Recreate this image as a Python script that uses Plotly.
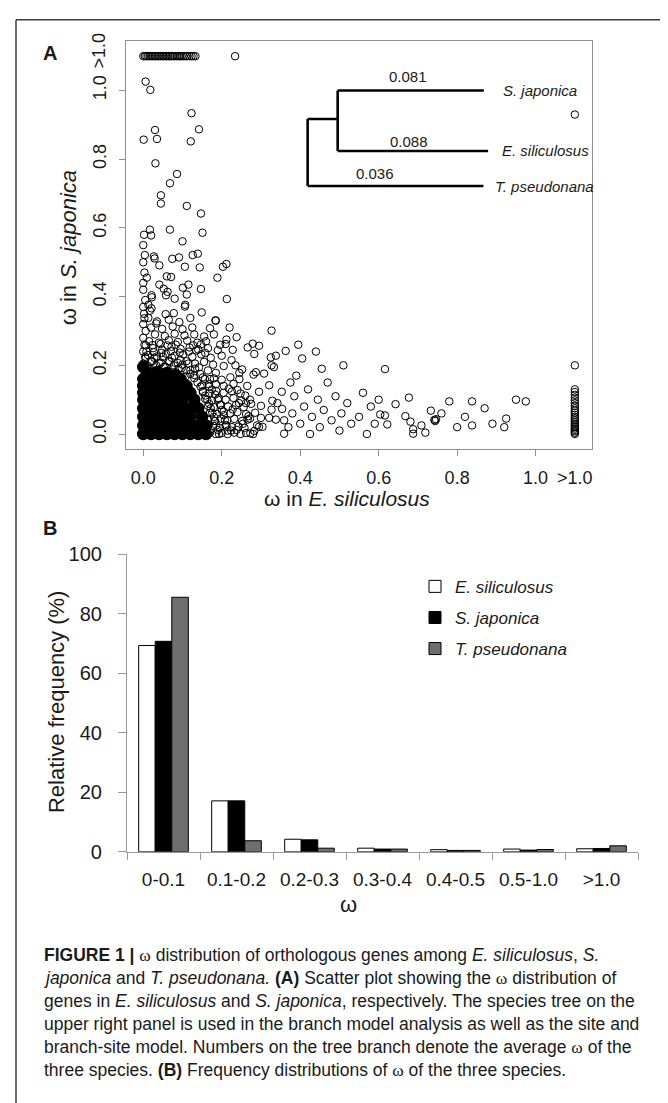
import plotly.graph_objects as go

# ---------------- data: panel A (omega scatter) ----------------
# dense core of overlapping points (solid black mass)
core_x = [0.0, 0.02, 0.04, 0.06, 0.08, 0.10, 0.12, 0.14, 0.16,
          0.0, 0.02, 0.04, 0.06, 0.08, 0.10, 0.12, 0.14, 0.16,
          0.0, 0.02, 0.04, 0.06, 0.08, 0.10, 0.12, 0.15,
          0.0, 0.02, 0.04, 0.06, 0.08, 0.10, 0.12, 0.14,
          0.0, 0.02, 0.04, 0.06, 0.08, 0.10, 0.13,
          0.0, 0.02, 0.04, 0.06, 0.08, 0.10, 0.12,
          0.0, 0.02, 0.04, 0.06, 0.08, 0.10, 0.11,
          0.0, 0.02, 0.04, 0.06, 0.08, 0.095,
          0.01, 0.035, 0.06, 0.082,
          0.0]
core_y = [0.0, 0.0, 0.0, 0.0, 0.0, 0.0, 0.0, 0.0, 0.0,
          0.025, 0.025, 0.025, 0.025, 0.025, 0.025, 0.025, 0.025, 0.025,
          0.05, 0.05, 0.05, 0.05, 0.05, 0.05, 0.05, 0.05,
          0.075, 0.075, 0.075, 0.075, 0.075, 0.075, 0.075, 0.075,
          0.10, 0.10, 0.10, 0.10, 0.10, 0.10, 0.10,
          0.12, 0.12, 0.12, 0.12, 0.12, 0.12, 0.12,
          0.14, 0.14, 0.14, 0.14, 0.14, 0.14, 0.14,
          0.16, 0.16, 0.16, 0.16, 0.16, 0.16,
          0.178, 0.18, 0.178, 0.172,
          0.195]

# ragged rim of overlapping points around the core
rim_x = [0.0, 0.012, 0.022, 0.033, 0.045, 0.056, 0.067, 0.078, 0.09, 0.1,
         0.11, 0.12, 0.13, 0.138, 0.146, 0.152, 0.158, 0.163, 0.168, 0.172,
         0.176, 0.18, 0.183, 0.186, 0.19, 0.193,
         0.005, 0.028, 0.05, 0.073, 0.095, 0.115, 0.132, 0.145, 0.157, 0.167,
         0.175, 0.183, 0.19, 0.196, 0.2, 0.205, 0.208, 0.212, 0.215]
rim_y = [0.205, 0.198, 0.212, 0.2, 0.208, 0.196, 0.21, 0.2, 0.19, 0.202,
         0.185, 0.175, 0.163, 0.15, 0.138, 0.125, 0.112, 0.1, 0.088, 0.075,
         0.062, 0.05, 0.038, 0.025, 0.012, 0.0,
         0.225, 0.222, 0.225, 0.222, 0.215, 0.205, 0.19, 0.175, 0.16, 0.145,
         0.13, 0.115, 0.1, 0.085, 0.07, 0.055, 0.04, 0.025, 0.01]

# halo above the core
halo_up_x = [0.015, 0.04, 0.062, 0.085, 0.108, 0.13, 0.152, 0.17,
             0.01, 0.03, 0.052, 0.075, 0.098, 0.12, 0.142, 0.165, 0.185,
             0.02, 0.042, 0.065, 0.088, 0.11, 0.132, 0.155, 0.178, 0.205,
             0.012, 0.035, 0.058, 0.08, 0.102, 0.125, 0.148, 0.172, 0.2, 0.225,
             0.025, 0.048, 0.072, 0.095, 0.118, 0.14, 0.165, 0.19,
             0.015, 0.04, 0.065, 0.088, 0.112, 0.138, 0.16, 0.21,
             0.03, 0.055, 0.08, 0.105, 0.13, 0.155, 0.18,
             0.02, 0.048, 0.075, 0.1, 0.125, 0.17, 0.22,
             0.035, 0.065, 0.092, 0.12,
             0.008, 0.027, 0.046, 0.07, 0.093, 0.116, 0.135, 0.158,
             0.006, 0.024, 0.044, 0.062, 0.083, 0.127, 0.147, 0.196,
             0.235, 0.245, 0.228, 0.212, 0.252, 0.238]
halo_up_y = [0.168, 0.172, 0.166, 0.175, 0.168, 0.172, 0.165, 0.16,
             0.19, 0.185, 0.195, 0.188, 0.192, 0.186, 0.194, 0.185, 0.178,
             0.21, 0.205, 0.213, 0.207, 0.212, 0.205, 0.21, 0.202, 0.198,
             0.23, 0.226, 0.234, 0.228, 0.232, 0.225, 0.232, 0.222, 0.228, 0.215,
             0.25, 0.245, 0.254, 0.248, 0.252, 0.246, 0.25, 0.244,
             0.27, 0.266, 0.273, 0.268, 0.272, 0.266, 0.27, 0.262,
             0.29, 0.285, 0.292, 0.287, 0.29, 0.284, 0.29,
             0.31, 0.306, 0.313, 0.305, 0.31, 0.308, 0.31,
             0.328, 0.333, 0.326, 0.338,
             0.24, 0.238, 0.236, 0.241, 0.237, 0.24, 0.243, 0.236,
             0.258, 0.259, 0.262, 0.258, 0.26, 0.258, 0.261, 0.26,
             0.2, 0.178, 0.245, 0.275, 0.188, 0.282]

# column of points at omega(E) ~ 0
left_col_x = [0.0, 0.004, 0.0, 0.006, 0.0, 0.003, 0.0, 0.006, 0.0, 0.002,
              0.0, 0.005, 0.0, 0.0, 0.003, 0.0, 0.0, 0.002]
left_col_y = [0.16, 0.18, 0.2, 0.22, 0.24, 0.26, 0.28, 0.3, 0.32, 0.35,
              0.37, 0.39, 0.42, 0.44, 0.47, 0.5, 0.55, 0.58]

# halo right of the core
halo_rt_x = [0.155, 0.17, 0.185, 0.2, 0.215, 0.232, 0.248, 0.262, 0.28,
             0.16, 0.178, 0.195, 0.21, 0.226, 0.243, 0.258, 0.29,
             0.165, 0.182, 0.198, 0.214, 0.232, 0.252, 0.272,
             0.17, 0.188, 0.205, 0.222, 0.24, 0.262, 0.285,
             0.165, 0.18, 0.198, 0.216, 0.236, 0.256, 0.3,
             0.158, 0.175, 0.192, 0.21, 0.23, 0.25, 0.272,
             0.152, 0.168, 0.186, 0.205, 0.226, 0.248,
             0.15, 0.168, 0.185, 0.205, 0.23, 0.265,
             0.18, 0.2, 0.222, 0.245,
             0.224, 0.238, 0.254, 0.268, 0.228, 0.244, 0.26, 0.218, 0.24, 0.275]
halo_rt_y = [0.0, 0.004, 0.0, 0.003, 0.0, 0.004, 0.0, 0.003, 0.0,
             0.02, 0.024, 0.018, 0.025, 0.02, 0.022, 0.018, 0.025,
             0.042, 0.038, 0.045, 0.04, 0.044, 0.038, 0.045,
             0.062, 0.058, 0.065, 0.06, 0.064, 0.058, 0.062,
             0.082, 0.078, 0.085, 0.08, 0.084, 0.078, 0.082,
             0.102, 0.098, 0.104, 0.1, 0.105, 0.098, 0.1,
             0.122, 0.118, 0.125, 0.12, 0.124, 0.118,
             0.142, 0.138, 0.145, 0.14, 0.146, 0.14,
             0.162, 0.158, 0.165, 0.16,
             0.01, 0.012, 0.03, 0.052, 0.072, 0.09, 0.112, 0.132, 0.128, 0.088]

# scattered points, upper left
ul_x = [0.006, 0.018, 0.123, 0.030, 0.142, 0.001, 0.035, 0.121, 0.031, 0.086,
        0.068, 0.045, 0.045, 0.111, 0.147, 0.017, 0.020, 0.068, 0.151, 0.100,
        0.004, 0.027, 0.029, 0.041, 0.074, 0.091, 0.126, 0.139, 0.106, 0.144,
        0.203, 0.212, 0.009, 0.060, 0.071, 0.189, 0.041, 0.052, 0.062, 0.058,
        0.101, 0.115, 0.111, 0.147, 0.080, 0.021, 0.022, 0.213, 0.013, 0.021,
        0.017, 0.003, 0.013, 0.057, 0.078, 0.107, 0.149, 0.185, 0.033]
ul_y = [1.026, 1.002, 0.934, 0.885, 0.887, 0.857, 0.859, 0.852, 0.788, 0.757,
        0.730, 0.695, 0.671, 0.664, 0.642, 0.595, 0.578, 0.595, 0.586, 0.561,
        0.521, 0.517, 0.511, 0.491, 0.510, 0.514, 0.521, 0.525, 0.487, 0.485,
        0.487, 0.495, 0.455, 0.459, 0.457, 0.455, 0.435, 0.423, 0.414, 0.404,
        0.426, 0.435, 0.406, 0.422, 0.394, 0.404, 0.398, 0.393, 0.376, 0.366,
        0.359, 0.337, 0.338, 0.349, 0.352, 0.376, 0.354, 0.330, 0.322]

# scattered points, 0.25 < omega(E) < 0.4
mid_x = [0.327, 0.279, 0.295, 0.266, 0.283, 0.363, 0.325, 0.338, 0.327, 0.333,
         0.308, 0.287, 0.281, 0.321, 0.295, 0.353, 0.329, 0.342, 0.354, 0.327,
         0.300, 0.321, 0.338, 0.359, 0.295, 0.304, 0.359, 0.273, 0.283, 0.266,
         0.262, 0.184, 0.106]
mid_y = [0.301, 0.263, 0.257, 0.252, 0.233, 0.242, 0.223, 0.228, 0.200, 0.195,
         0.176, 0.180, 0.173, 0.142, 0.123, 0.123, 0.097, 0.090, 0.073, 0.071,
         0.047, 0.047, 0.042, 0.040, 0.021, 0.021, 0.001, 0.002, 0.009, 0.042,
         0.090, 0.331, 0.371]

# scattered points, 0.6 < omega(E) < 0.85
far_x = [0.616, 0.677, 0.643, 0.604, 0.616, 0.622, 0.668, 0.681, 0.688, 0.688,
         0.709, 0.719, 0.733, 0.742, 0.746, 0.744, 0.838, 0.838]
far_y = [0.189, 0.106, 0.087, 0.057, 0.054, 0.028, 0.052, 0.036, 0.014, 0.001,
         0.025, 0.004, 0.068, 0.041, 0.043, 0.038, 0.095, 0.025]

# remaining scattered points (estimated)
rest_x = [0.37, 0.38, 0.385, 0.39, 0.40, 0.405, 0.41, 0.42, 0.425, 0.43,
          0.44, 0.445, 0.45, 0.46, 0.47, 0.48, 0.49, 0.50, 0.505, 0.51,
          0.52, 0.53, 0.55, 0.56, 0.57, 0.58, 0.59, 0.60, 0.375, 0.395,
          0.455, 0.76, 0.78, 0.80, 0.82, 0.87, 0.89, 0.92, 0.925, 0.95, 0.975]
rest_y = [0.02, 0.06, 0.11, 0.17, 0.03, 0.22, 0.08, 0.13, 0.0, 0.05,
          0.24, 0.10, 0.02, 0.07, 0.15, 0.04, 0.11, 0.01, 0.06, 0.20,
          0.09, 0.03, 0.05, 0.12, 0.0, 0.08, 0.03, 0.10, 0.15, 0.26,
          0.19, 0.06, 0.095, 0.02, 0.05, 0.075, 0.03, 0.02, 0.045, 0.10, 0.095]

# genes with omega(S) > 1.0 (plotted on the ">1.0" row)
top_row_x = [0.0, 0.004, 0.008, 0.012, 0.016, 0.02, 0.024, 0.028, 0.032, 0.036,
             0.04, 0.044, 0.048, 0.052, 0.056, 0.06, 0.064, 0.068, 0.072, 0.076,
             0.08, 0.085, 0.09, 0.094, 0.098, 0.103, 0.108, 0.112, 0.118, 0.123,
             0.128, 0.133, 0.234]
# genes with omega(E) > 1.0 (plotted on the ">1.0" column)
right_col_y = [0.0, 0.004, 0.008, 0.012, 0.016, 0.02, 0.025, 0.03, 0.035, 0.04,
               0.045, 0.05, 0.056, 0.062, 0.068, 0.075, 0.082, 0.09, 0.098, 0.106,
               0.114, 0.122, 0.13, 0.2, 0.93]
OVER = 1.1  # plotting position used for omega > 1.0

x_ticks = [0.0, 0.2, 0.4, 0.6, 0.8, 1.0]
tick_text = ["0.0", "0.2", "0.4", "0.6", "0.8", "1.0"]

# species tree branch omegas
branch_omega = {"S. japonica": "0.081", "E. siliculosus": "0.088", "T. pseudonana": "0.036"}

# ---------------- data: panel B (frequency distribution) ----------------
bins = ["0-0.1", "0.1-0.2", "0.2-0.3", "0.3-0.4", "0.4-0.5", "0.5-1.0", ">1.0"]
freq_es = [69.3, 17.1, 4.2, 1.2, 0.7, 0.9, 1.0]
freq_sj = [70.7, 17.1, 4.0, 0.9, 0.45, 0.55, 1.1]
freq_tp = [85.5, 3.7, 1.2, 0.9, 0.45, 0.75, 2.0]

# ---------------- figure ----------------
W, H = 668, 1103
OFF = 8  # the page body adds an 8 px margin; place items in screen pixels
def fx(px): return (px - OFF) / W
def fy(py): return 1 - (py - OFF) / H

FONT = "Liberation Sans, Arial, Helvetica, sans-serif"
TXT = "#1a1a1a"

fig = go.Figure()

open_marker = dict(symbol="circle-open", size=7.5, color="black", line=dict(width=1, color="black"))

fig.add_trace(go.Scatter(x=core_x, y=core_y, mode="markers",
                         marker=dict(symbol="circle", size=12.5, color="black"),
                         showlegend=False, hoverinfo="skip", xaxis="x", yaxis="y"))
all_x = (rim_x + halo_up_x + left_col_x + halo_rt_x + ul_x + mid_x + far_x + rest_x
         + top_row_x + [OVER] * len(right_col_y))
all_y = (rim_y + halo_up_y + left_col_y + halo_rt_y + ul_y + mid_y + far_y + rest_y
         + [OVER] * len(top_row_x) + right_col_y)
fig.add_trace(go.Scatter(x=all_x, y=all_y, mode="markers", marker=open_marker,
                         showlegend=False, hoverinfo="skip", xaxis="x", yaxis="y"))

bar_specs = [("<i>E. siliculosus</i>", freq_es, "white", "g1"),
             ("<i>S. japonica</i>", freq_sj, "black", "g2"),
             ("<i>T. pseudonana</i>", freq_tp, "#6f6f6f", "g3")]
for name, vals, col, grp in bar_specs:
    fig.add_trace(go.Bar(x=bins, y=vals, name=name, legendgroup=grp,
                         marker=dict(color=col, line=dict(color="black", width=1)),
                         xaxis="x2", yaxis="y2"))

# axis geometry (screen pixels)
A_left, A_right, A_top, A_bot = 126.0, 592.1, 30.5, 446.9
B_left, B_right, B_top, B_bot = 127.0, 638.0, 554.0, 857.7

axA_common = dict(showgrid=False, zeroline=False, showline=True, mirror=True,
                  linecolor="#8f8f8f", linewidth=1.2, ticks="outside", ticklen=6,
                  tickcolor="#8f8f8f", tickwidth=1.2,
                  tickfont=dict(family=FONT, size=18, color=TXT))

fig.update_layout(
    width=W, height=H, margin=dict(l=0, r=0, t=0, b=0),
    paper_bgcolor="white", plot_bgcolor="white",
    barmode="group", bargap=0.32, bargroupgap=0.0,
    xaxis=dict(domain=[fx(A_left), fx(A_right)], range=[-0.044, 1.144],
               tickvals=x_ticks, ticktext=tick_text, anchor="y",
               ticklabelstandoff=6, **axA_common),
    yaxis=dict(domain=[fy(A_bot), fy(A_top)], range=[-0.044, 1.144],
               tickvals=x_ticks, ticktext=tick_text, anchor="x", tickangle=-90,
               ticklabelstandoff=6, **axA_common),
    xaxis2=dict(domain=[fx(B_left), fx(B_right)], type="category", anchor="y2",
                showgrid=False, zeroline=False, showline=True, linecolor="#9a9a9a", linewidth=1.2,
                ticks="outside", tickson="boundaries", ticklen=7, tickcolor="#9a9a9a",
                tickfont=dict(family=FONT, size=19, color=TXT), ticklabelstandoff=10),
    yaxis2=dict(domain=[fy(B_bot), fy(B_top)], range=[0, 100], anchor="x2",
                tickvals=[0, 20, 40, 60, 80, 100],
                showgrid=False, zeroline=False, showline=True, linecolor="#9a9a9a", linewidth=1.2,
                ticks="outside", ticklen=8, tickcolor="#9a9a9a",
                tickfont=dict(family=FONT, size=20, color=TXT), ticklabelstandoff=12),
    legend=dict(x=fx(415), y=fy(569), xanchor="left", yanchor="top",
                font=dict(family=FONT, size=17, color=TXT), bgcolor="rgba(0,0,0,0)",
                tracegroupgap=6, itemwidth=30),
)

ann = []
def add_text(text, x, y, size, xref="paper", yref="paper", xanchor="center", yanchor="middle",
             angle=0, bold=False):
    ann.append(dict(text=text, x=x, y=y, xref=xref, yref=yref, xanchor=xanchor, yanchor=yanchor,
                    textangle=angle, showarrow=False,
                    font=dict(family=FONT, size=size, color=TXT,
                              weight="bold" if bold else "normal")))

# panel letters
add_text("A", fx(50), fy(43), 20, bold=True)
add_text("B", fx(50), fy(527), 20, bold=True)
# panel A titles and ">1.0" labels
add_text("ω in <i>E. siliculosus</i>", fx(347), fy(497), 21)
add_text("ω in <i>S. japonica</i>", fx(68), fy(242), 22, angle=-90)
add_text(">1.0", OVER, fy(476), 18, xref="x")
add_text(">1.0", fx(99.5), 1.115, 18, yref="y", angle=-90)
# panel B titles
add_text("Relative frequency (%)", fx(56), fy(705), 22, angle=-90)
add_text("ω", fx(348), fy(912), 22)

# species tree (drawn in panel A data space)
tree_lines = [
    (0.419, 0.722, 0.419, 0.917),
    (0.419, 0.917, 0.4955, 0.917),
    (0.4955, 0.824, 0.4955, 1.0),
    (0.4955, 1.0, 0.868, 1.0),
    (0.4955, 0.824, 0.879, 0.824),
    (0.419, 0.722, 0.867, 0.722),
]
shapes = []
for x0, y0, x1, y1 in tree_lines:
    shapes.append(dict(type="line", xref="x", yref="y", x0=x0, y0=y0, x1=x1, y1=y1,
                       line=dict(color="black", width=2.6)))
add_text(branch_omega["S. japonica"], 0.674, 1.041, 15, xref="x", yref="y")
add_text(branch_omega["E. siliculosus"], 0.677, 0.853, 15, xref="x", yref="y")
add_text(branch_omega["T. pseudonana"], 0.591, 0.758, 15, xref="x", yref="y")
add_text("<i>S. japonica</i>", 0.912, 1.0, 15, xref="x", yref="y", xanchor="left")
add_text("<i>E. siliculosus</i>", 0.909, 0.824, 15, xref="x", yref="y", xanchor="left")
add_text("<i>T. pseudonana</i>", 0.891, 0.722, 15, xref="x", yref="y", xanchor="left")

# outer frame
shapes.append(dict(type="line", xref="paper", yref="paper", x0=fx(16), x1=fx(16), y0=fy(8.8), y1=fy(1130),
                   line=dict(color="#3c3c3c", width=1.5)))
shapes.append(dict(type="line", xref="paper", yref="paper", x0=fx(16), x1=fx(700), y0=fy(8.8), y1=fy(8.8),
                   line=dict(color="#3c3c3c", width=1.5)))

# caption
w = '<span style="font-family:Liberation Serif, Times New Roman, serif">ω</span>'
caption = [
    "<b>FIGURE 1 |</b> " + w + " distribution of orthologous genes among <i>E. siliculosus</i>, <i>S.</i>",
    "<i>japonica</i> and <i>T. pseudonana.</i> <b>(A)</b> Scatter plot showing the " + w + " distribution of",
    "genes in <i>E. siliculosus</i> and <i>S. japonica</i>, respectively. The species tree on the",
    "upper right panel is used in the branch model analysis as well as the site and",
    "branch-site model. Numbers on the tree branch denote the average " + w + " of the",
    "three species. <b>(B)</b> Frequency distributions of " + w + " of the three species.",
]
cap_y = [963, 986.5, 1010, 1033.5, 1057, 1080.5]
for line, py in zip(caption, cap_y):
    add_text(line, fx(42), fy(py), 17.5, xanchor="left")

fig.update_layout(annotations=ann, shapes=shapes)
fig.write_html("out.html")
